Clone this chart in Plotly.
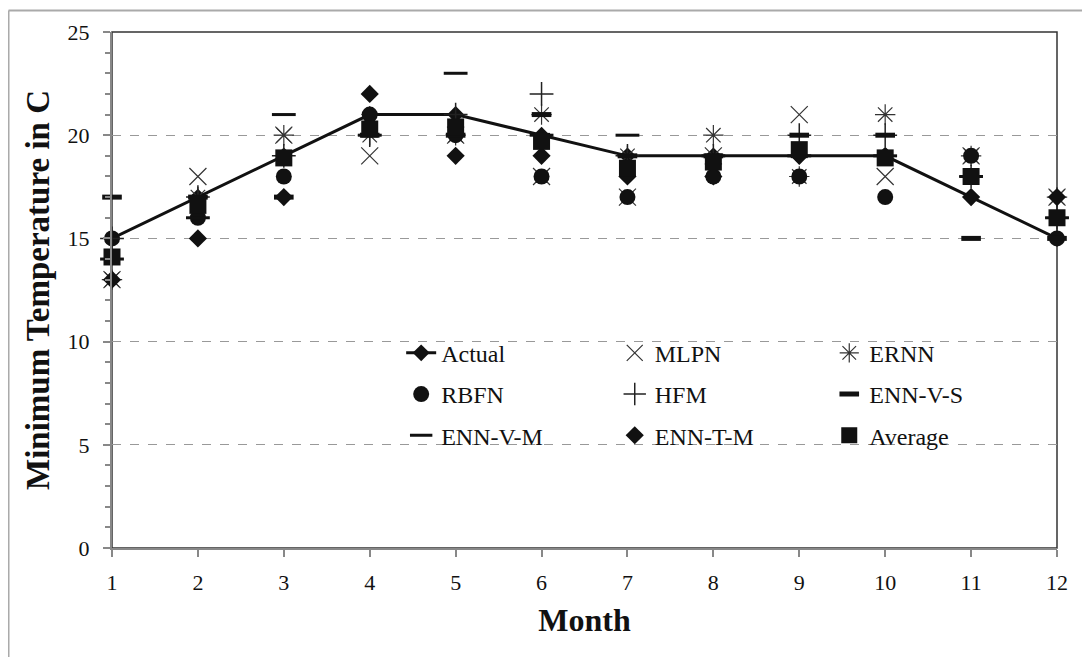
import plotly.graph_objects as go

months = list(range(1, 13))
actual = [15, 17, 19, 21, 21, 20, 19, 19, 19, 19, 17, 15]
mlpn = [13, 18, 20, 19, 20, 18, 17, 19, 21, 18, 19, 17]
ernn = [13, 17, 20, 20, 20, 21, 19, 20, 18, 21, 19, 17]
rbfn = [15, 16, 18, 21, 20, 18, 17, 18, 18, 17, 19, 15]
hfm = [15, 17, 19, 20, 21, 22, 19, 19, 20, 20, 18, 16]
enn_v_s = [17, 17, 17, 20, 20, 21, 19, 19, 20, 20, 15, 15]
enn_v_m = [14, 16, 21, 20, 23, 20, 20, 19, 19, 19, 18, 16]
enn_t_m = [13, 15, 17, 22, 19, 19, 18, 18, 19, 19, 17, 17]
average = [14.1, 16.6, 18.9, 20.3, 20.4, 19.7, 18.4, 18.7, 19.3, 18.9, 18.0, 16.0]

FONT = "Liberation Serif"
INK = "#111111"

fig = go.Figure()


def add(name, y, legend, mode="markers", symbol="circle", size=12, lw=0, color=INK, line=None):
    marker = dict(symbol=symbol, size=size, color=color, line=dict(width=lw, color=color))
    kw = dict(x=months, y=y, name=name, mode=mode, marker=marker, legend=legend,
              legendgroup=name, cliponaxis=False)
    if line is not None:
        kw["line"] = line
    fig.add_trace(go.Scatter(**kw))


add("Actual", actual, "legend", mode="lines+markers", symbol="diamond", size=13,
    line=dict(color=INK, width=3))
add("MLPN", mlpn, "legend2", symbol="x-thin-open", size=17, lw=1.2, color="#333333")
add("ERNN", ernn, "legend3", symbol="asterisk-open", size=17, lw=1.2, color="#333333")
add("RBFN", rbfn, "legend", symbol="circle", size=16)
add("HFM", hfm, "legend2", symbol="cross-thin-open", size=17, lw=1.5, color="#222222")
add("ENN-V-S", enn_v_s, "legend3", symbol="line-ew-open", size=14, lw=5)
add("ENN-V-M", enn_v_m, "legend", symbol="line-ew-open", size=17, lw=3)
add("ENN-T-M", enn_t_m, "legend2", symbol="diamond", size=14)
add("Average", average, "legend3", symbol="square", size=17)

leg_common = dict(
    bgcolor="rgba(0,0,0,0)", font=dict(family=FONT, size=24, color=INK),
    tracegroupgap=7, yanchor="top", xanchor="left", y=0.421,
    itemsizing="trace",
)

fig.update_layout(
    width=1082, height=649,
    margin=dict(l=104, r=33, t=22, b=109),
    paper_bgcolor="white", plot_bgcolor="white",
    font=dict(family=FONT, size=22, color=INK),
    legend=dict(x=0.306, **leg_common),
    legend2=dict(x=0.532, **leg_common),
    legend3=dict(x=0.759, **leg_common),
    xaxis=dict(
        range=[1, 12], tickmode="array", tickvals=months, ticktext=[str(m) for m in months],
        showgrid=False, zeroline=False, showline=True, linecolor="#888888", linewidth=2,
        ticks="outside", ticklen=7, tickcolor="#888888", tickwidth=1.5,
        tickfont=dict(family=FONT, size=22, color=INK), ticklabelstandoff=7,
        title=dict(text="<b>Month</b>", font=dict(family=FONT, size=32, color=INK), standoff=14),
    ),
    yaxis=dict(
        range=[0, 25], tickmode="linear", tick0=0, dtick=5,
        showgrid=True, gridcolor="#999999", griddash="dash", gridwidth=1,
        zeroline=False, showline=True, linecolor="#888888", linewidth=2,
        ticks="outside", ticklen=7, tickcolor="#888888", tickwidth=1.5,
        minor=dict(dtick=1, ticks="outside", ticklen=5, tickcolor="#888888", showgrid=False),
        tickfont=dict(family=FONT, size=22, color=INK), ticklabelstandoff=9,
        title=dict(text="<b>Minimum Temperature in C</b>",
                   font=dict(family=FONT, size=33, color=INK), standoff=8),
    ),
    shapes=[
        dict(type="rect", xref="paper", yref="paper", x0=0, x1=1, y0=0, y1=1,
             line=dict(color="#333333", width=1.5), layer="below"),
        dict(type="line", xref="paper", yref="paper", x0=-0.1095, x1=1.04, y0=1.0415, y1=1.0415,
             line=dict(color="#aaaaaa", width=2)),
        dict(type="line", xref="paper", yref="paper", x0=-0.1095, x1=-0.1095, y0=1.0415, y1=-0.22,
             line=dict(color="#aaaaaa", width=2)),
    ],
)

fig.write_html("out.html")
